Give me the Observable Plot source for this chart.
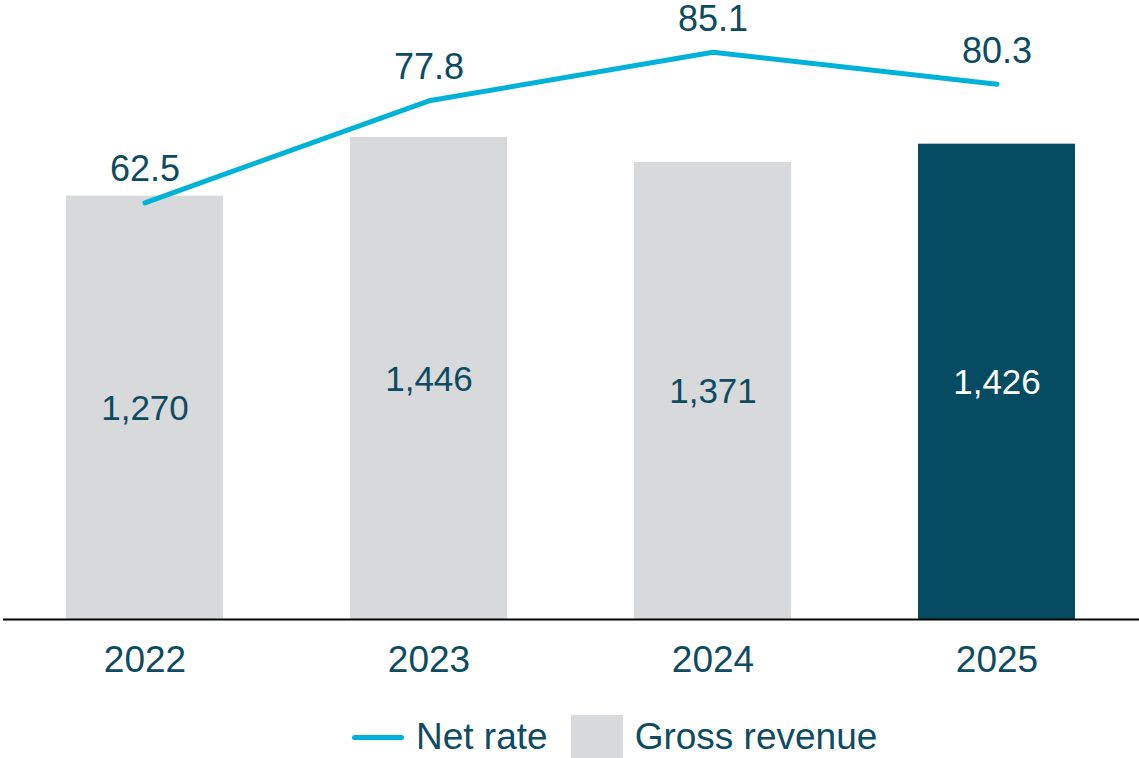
<!DOCTYPE html>
<html>
<head>
<meta charset="utf-8">
<script src="https://cdn.jsdelivr.net/npm/d3@7"></script>
<script src="https://cdn.jsdelivr.net/npm/@observablehq/plot@0.6"></script>
<style>
  html, body { margin: 0; padding: 0; background: #fff; }
  body { width: 1139px; height: 758px; overflow: hidden; font-family: "Liberation Sans", Arial, sans-serif; }
  #legend { display: flex; align-items: center; height: 44px; margin-top: 15px; padding-left: 352px; font-size: 37px; color: #0d4b63; line-height: 44px; }
  .sw-line { width: 52px; height: 5px; border-radius: 3px; background: #00b2d8; margin-right: 12px; }
  .sw-box { width: 52px; height: 44px; background: #d8d9da; margin-left: 23px; margin-right: 12px; }
  svg { overflow: visible; }
</style>
</head>
<body>
<div id="chart"></div>
<div id="legend">
  <div class="sw-line"></div><span>Net rate</span>
  <div class="sw-box"></div><span>Gross revenue</span>
</div>
<script>
const years = ["2022", "2023", "2024", "2025"];
const grossRevenue = [1270, 1446, 1371, 1426];
const netRate = [62.5, 77.8, 85.1, 80.3];
const highlightYear = "2025";

const textColor = "#0d4b63";
const greyBar = "#d8d9da";
const darkBar = "#054b62";
const lineColor = "#00b2d8";
const rateFactor = 20; // secondary axis: net rate drawn on revenue scale ×20

const data = years.map((y, i) => ({year: y, revenue: grossRevenue[i], rate: netRate[i]}));

const chart = Plot.plot({
  width: 1139,
  height: 700,
  marginTop: 10,
  marginBottom: 81,
  marginLeft: 3,
  marginRight: 0,
  style: {fontFamily: "'Liberation Sans', Arial, sans-serif", background: "#fff", overflow: "visible"},
  x: {domain: years, paddingInner: 0.447, paddingOuter: 0.2235, align: 0.5},
  y: {domain: [0, 1827], axis: null},
  marks: [
    Plot.barY(data, {x: "year", y: "revenue", fill: d => d.year === highlightYear ? darkBar : greyBar}),
    Plot.text(data, {x: "year", y: d => d.revenue / 2, text: d => d3.format(",")(d.revenue),
      fill: d => d.year === highlightYear ? "#ffffff" : textColor, fontSize: 35, dy: 1}),
    Plot.ruleY([0], {stroke: "#000", strokeWidth: 2}),
    Plot.line(data, {x: "year", y: d => d.rate * rateFactor, stroke: lineColor, strokeWidth: 5, strokeLinecap: "round", strokeLinejoin: "round"}),
    Plot.text(data, {x: "year", y: d => d.rate * rateFactor, text: d => d.rate.toFixed(1), fill: textColor, fontSize: 36, dy: -33}),
    Plot.axisX({tickSize: 0, tickPadding: 26, fontSize: 37, color: textColor, label: null})
  ]
});
document.getElementById("chart").appendChild(chart);
</script>
</body>
</html>
